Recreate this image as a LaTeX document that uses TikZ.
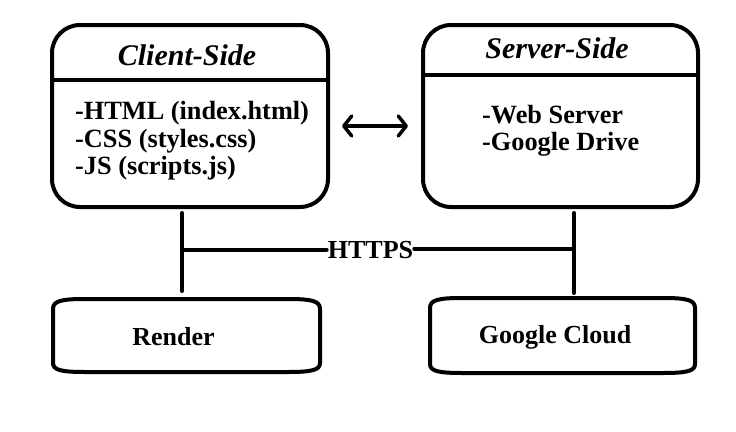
\documentclass[tikz,border=0pt]{standalone}
\usepackage{fontspec}
\setmainfont{Liberation Serif}
\usetikzlibrary{arrows.meta}
\newcommand\myBaseBox[4]{% x1 y1 x2 y2
  \draw[basebox] (#1,#2+10) .. controls (#1,#2+2) and (#1+8,#2) .. (#1+32,#2)
    -- (#3-32,#2) .. controls (#3-8,#2) and (#3,#2+2) .. (#3,#2+10)
    -- (#3,#4-9) .. controls (#3,#4-2) and (#3-8,#4) .. (#3-32,#4)
    -- (#1+32,#4) .. controls (#1+8,#4) and (#1,#4-2) .. (#1,#4-9) -- cycle;}
\begin{document}
\begin{tikzpicture}[x=1pt,y=-1pt,
  bigbox/.style={draw, line width=4pt, rounded corners=28pt, inner sep=0pt, minimum height=182pt},
  basebox/.style={line width=4pt, line join=round},
  divider/.style={line width=4pt},
  titletext/.style={font=\fontsize{30}{34}\selectfont\bfseries\itshape, inner sep=0pt, anchor=base},
  bodytext/.style={font=\fontsize{26.3}{28}\selectfont\bfseries, inner sep=0pt, anchor=base west},
  labeltext/.style={font=\fontsize{26}{28}\selectfont\bfseries, inner sep=0pt, anchor=base},
  conn/.style={line width=4pt, line cap=round},
  dbl/.style={line width=3.5pt, line cap=round,
    {Straight Barb[length=8pt,width=20pt,line cap=round,line join=round]}-{Straight Barb[length=8pt,width=20pt,line cap=round,line join=round]}}]
\useasboundingbox (0,0) rectangle (736,431);
\fill[white] (0,0) rectangle (736,431);

% top boxes
\node[bigbox, minimum width=276pt] (client) at (190,116) {};
\node[bigbox, minimum width=275pt] (server) at (560.5,116) {};
\coordinate (cdiv) at (0,80);
\coordinate (sdiv) at (0,75);
\draw[divider] (client.west |- cdiv) -- (client.east |- cdiv);
\draw[divider] (server.west |- sdiv) -- (server.east |- sdiv);

\node[titletext] (ctitle) at (187,65) {Client-Side};
\node[titletext] (stitle) at (557,58) {Server-Side};

\node[bodytext] (html) at (75,119.5) {-HTML (index.html)};
\node[bodytext] (css) at (75,147) {-CSS (styles.css)};
\node[bodytext] (js) at (75,174.5) {-JS (scripts.js)};

\node[bodytext] (web) at (482,123) {-Web Server};
\node[bodytext] (drive) at (482,150) {-Google Drive};

% bottom boxes
\myBaseBox{53}{299}{320}{372}
\myBaseBox{430}{298}{695}{373}
\node[labeltext] (render) at (173.5,345.5) {Render};
\node[labeltext] (gcloud) at (555,343) {Google Cloud};

% double arrow
\coordinate (arrL) at (342,126);
\coordinate (arrR) at (408,126);
\draw[dbl] (arrL) -- (arrR);

% HTTPS connectors
\coordinate (lt) at (182,213);
\coordinate (lb) at (182,291);
\coordinate (lm) at (182,249.5);
\coordinate (rt) at (574,213);
\coordinate (rb) at (574,293);
\coordinate (rm) at (574,248.5);
\node[labeltext, anchor=center, inner sep=1pt] (https) at (370.5,250) {HTTPS};
\draw[conn] (lt) -- (lb);
\draw[conn] (rt) -- (rb);
\draw[conn] (lm) -- (lm -| https.west);
\draw[conn] (https.east |- rm) -- (rm);
\end{tikzpicture}
\end{document}
